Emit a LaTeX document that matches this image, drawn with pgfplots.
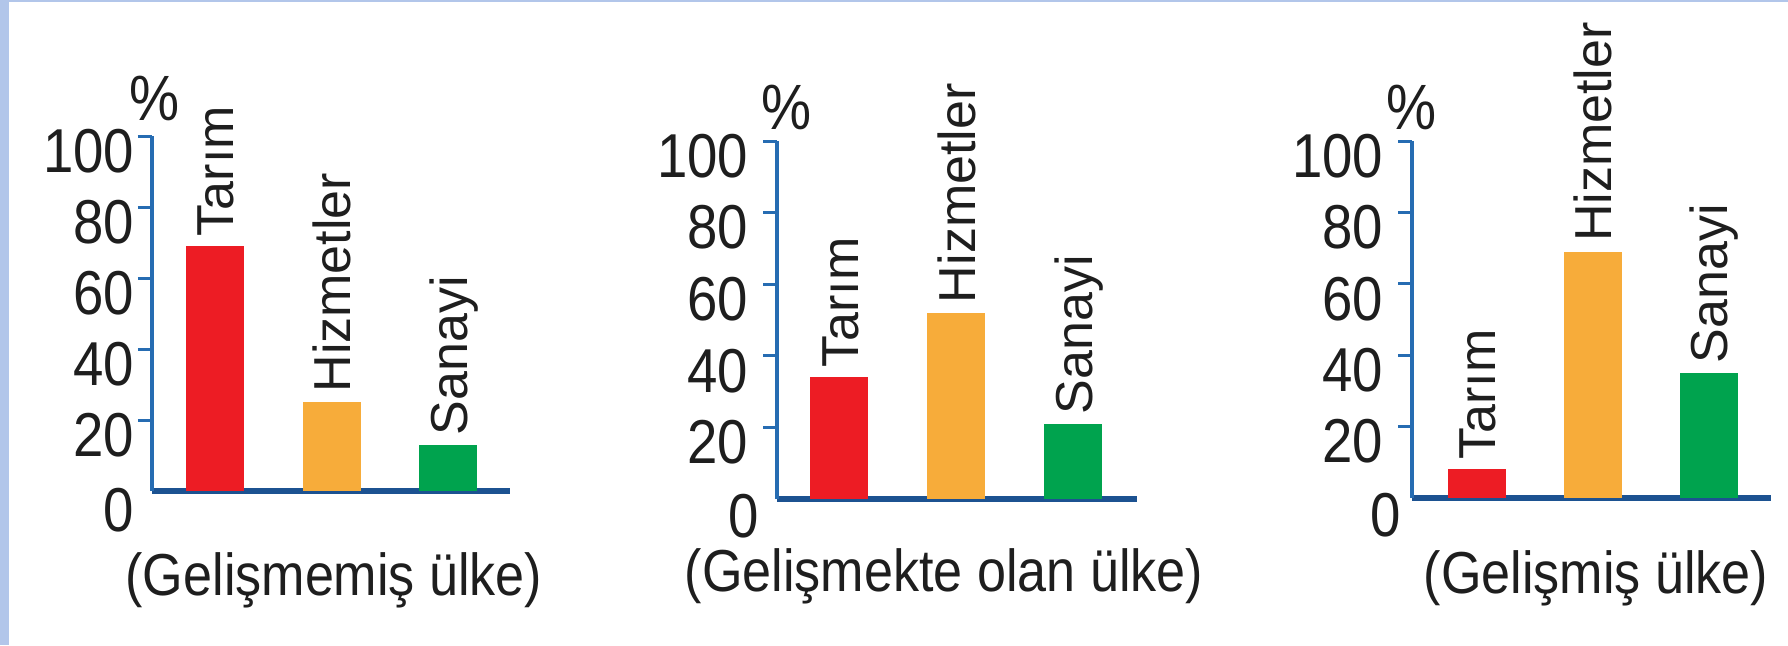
\documentclass[border=0pt]{standalone}
\usepackage{fontspec}
\setmainfont{Liberation Sans}
\newfontfamily\condfont[FakeStretch=0.88]{Liberation Sans}
\usepackage{pgfplots}
\pgfplotsset{compat=1.18}
\definecolor{barred}{RGB}{237,28,36}
\definecolor{barorange}{RGB}{247,172,58}
\definecolor{bargreen}{RGB}{0,163,78}
\definecolor{axisdark}{RGB}{28,82,145}
\definecolor{axisblue}{RGB}{38,108,178}
\definecolor{frameblue}{RGB}{178,198,234}
\definecolor{txt}{RGB}{30,30,30}
\pgfplotsset{
  panel/.style={
    anchor=south west, scale only axis, clip=false,
    axis x line*=bottom, axis y line*=left,
    x axis line style={line width=1.5pt, draw=axisdark},
    y axis line style={line width=1.1pt, draw=axisblue},
    ymin=0, ymax=100,
    xtick=\empty,
    ytick={20,40,60,80,100},
    tick align=outside,
    major tick length=3.5pt,
    ytick style={line width=0.75pt, draw=axisblue},
    /pgf/number format/assume math mode=true,
    yticklabel style={anchor=east, inner sep=0pt, yshift=-3.75pt,
      font=\condfont\fontsize{15.5}{15.5}\selectfont, text=txt},
    extra y ticks={0},
  },
  bar/.style={ybar, bar shift=0pt, bar width=14.5pt, draw=none, fill=#1},
}
\newcommand{\barlabel}[3]{\node[rotate=90, anchor=west, inner xsep=2.25pt, inner ysep=0pt,
  text height=9.4pt, text depth=0pt, text=txt, font=\fontsize{13}{13}\selectfont] at (axis cs:#1,#2) {#3};}
\newcommand{\pct}[2]{\node[inner sep=0pt, text=txt, font=\condfont\fontsize{16}{16}\selectfont, xshift=#1, yshift=#2] at (rel axis cs:0,1) {\%};}
\begin{document}
\begin{tikzpicture}
\useasboundingbox (0,0) rectangle (447pt,161.25pt);
\fill[white] (0,0) rectangle (447pt,161.25pt);
\fill[frameblue] (0,0) rectangle (2.2pt,161.25pt);
\fill[frameblue] (0,160.75pt) rectangle (447pt,161.25pt);

% Panel 1
\begin{axis}[panel, at={(38pt,38.5pt)}, width=89.5pt, height=88.75pt,
  xmin=-0.54, xmax=2.527,
  yticklabel style={xshift=-0.75pt},
  extra y tick style={major tick length=0pt, yticklabel style={xshift=-3.5pt, yshift=-1pt}}]
\addplot[bar=barred] coordinates {(0,69)};
\addplot[bar=barorange] coordinates {(1,25)};
\addplot[bar=bargreen] coordinates {(2,13)};
\barlabel{0}{69}{Tarım}
\barlabel{1}{25}{Hizmetler}
\barlabel{2}{13}{Sanayi}
\pct{0.75pt}{9.5pt}
\end{axis}

% Panel 2
\begin{axis}[panel, at={(194.25pt,36.5pt)}, width=90pt, height=89.5pt,
  xmin=-0.534, xmax=2.543,
  yticklabel style={xshift=-3.5pt},
  extra y tick style={major tick length=0pt, yticklabel style={xshift=-0.75pt, yshift=-0.5pt}}]
\addplot[bar=barred] coordinates {(0,34)};
\addplot[bar=barorange] coordinates {(1,52)};
\addplot[bar=bargreen] coordinates {(2,21)};
\barlabel{0}{34}{Tarım}
\barlabel{1}{52}{Hizmetler}
\barlabel{2}{21}{Sanayi}
\pct{2.5pt}{8.5pt}
\end{axis}

% Panel 3
\begin{axis}[panel, at={(353pt,36.75pt)}, width=89.75pt, height=89.25pt,
  xmin=-0.56, xmax=2.534,
  yticklabel style={xshift=-3.5pt},
  extra y tick style={major tick length=0pt, yticklabel style={xshift=1pt, yshift=-0.5pt}}]
\addplot[bar=barred] coordinates {(0,8)};
\addplot[bar=barorange] coordinates {(1,69)};
\addplot[bar=bargreen] coordinates {(2,35)};
\barlabel{0}{8}{Tarım}
\barlabel{1}{69}{Hizmetler}
\barlabel{2}{35}{Sanayi}
\pct{0pt}{8.5pt}
\end{axis}

\node[anchor=base, inner sep=0pt, text=txt, font=\condfont\fontsize{14.8}{14.8}\selectfont] at (83.5pt,12.5pt) {(Gelişmemiş ülke)};
\node[anchor=base, inner sep=0pt, text=txt, font=\condfont\fontsize{14.8}{14.8}\selectfont] at (236pt,13.5pt) {(Gelişmekte olan ülke)};
\node[anchor=base, inner sep=0pt, text=txt, font=\condfont\fontsize{14.8}{14.8}\selectfont] at (399pt,13pt) {(Gelişmiş ülke)};
\end{tikzpicture}
\end{document}
